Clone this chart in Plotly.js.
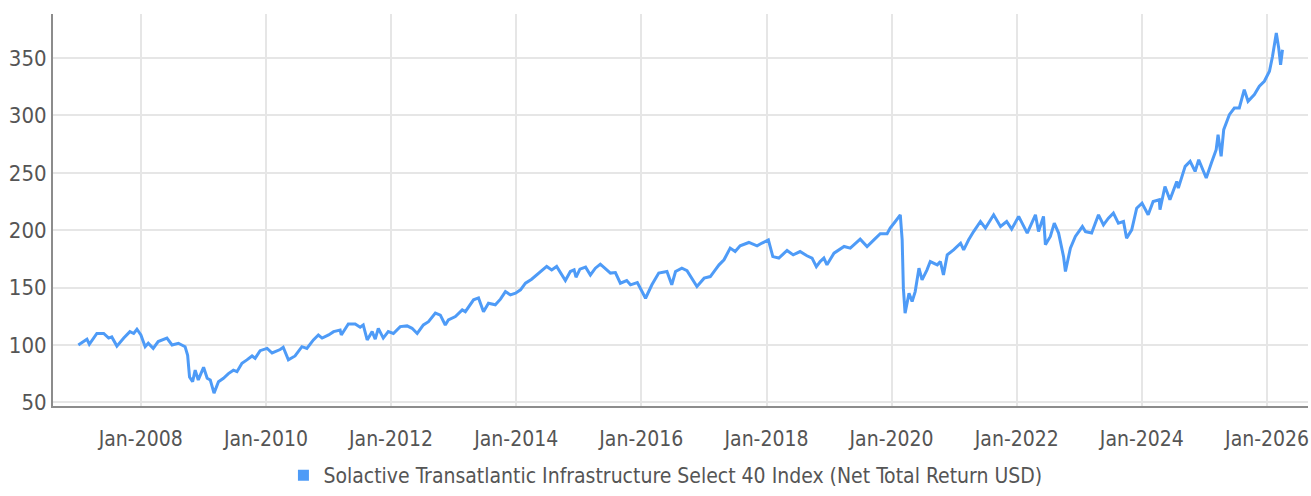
<!DOCTYPE html>
<html>
<head>
<meta charset="utf-8">
<script src="https://cdn.plot.ly/plotly-3.0.1.min.js"></script>
<style>
html,body{margin:0;padding:0;background:#fff;}
#chart{width:1311px;height:496px;}
</style>
</head>
<body>
<div id="chart"></div>
<script>
const seriesName = "Solactive Transatlantic Infrastructure Select 40 Index (Net Total Return USD)";

const dates = [
"2007-01-02","2007-02-21","2007-03-07","2007-04-20","2007-05-30","2007-06-28","2007-07-16","2007-08-15","2007-09-24","2007-10-30","2007-11-21","2007-12-10",
"2008-01-02","2008-01-27","2008-02-14","2008-03-14","2008-04-12","2008-06-02","2008-07-02","2008-08-08","2008-09-16","2008-10-01","2008-10-12","2008-10-30","2008-11-14","2008-12-02",
"2009-01-02","2009-01-23","2009-02-10","2009-03-04","2009-03-30","2009-04-28","2009-05-27","2009-06-25","2009-07-16","2009-08-14","2009-09-12","2009-10-12","2009-10-30","2009-11-28",
"2010-01-08","2010-02-06","2010-03-25","2010-04-12","2010-05-12","2010-06-20","2010-07-30","2010-08-28","2010-10-05","2010-11-03","2010-11-25",
"2011-01-02","2011-01-31","2011-03-10","2011-03-17","2011-04-27","2011-06-06","2011-07-05","2011-07-23","2011-08-15","2011-09-13","2011-10-01","2011-10-19","2011-11-17","2011-12-16",
"2012-01-15","2012-02-24","2012-04-04","2012-05-03","2012-06-02","2012-07-08","2012-08-07","2012-09-16","2012-10-15","2012-11-13","2012-12-01",
"2013-01-11","2013-02-20","2013-03-10","2013-04-27","2013-05-26","2013-06-24","2013-07-23","2013-09-01","2013-10-01","2013-10-30","2013-11-28","2013-12-28",
"2014-01-26","2014-02-24","2014-04-01","2014-05-11","2014-06-28","2014-07-27","2014-08-25","2014-10-15","2014-11-13","2014-12-05","2014-12-16",
"2015-01-08","2015-02-10","2015-03-10","2015-04-08","2015-05-07","2015-06-05","2015-07-05","2015-08-03","2015-09-01","2015-10-08","2015-10-30","2015-12-09",
"2016-01-26","2016-03-03","2016-04-12","2016-05-30","2016-06-27","2016-07-19","2016-08-25","2016-09-24","2016-10-23","2016-11-21",
"2017-01-02","2017-02-07","2017-03-08","2017-03-30","2017-04-28","2017-06-03","2017-07-02","2017-07-31","2017-09-20","2017-11-07","2017-12-06",
"2018-01-12","2018-02-07","2018-03-14","2018-05-01","2018-06-06","2018-07-16","2018-08-25","2018-09-24","2018-10-19","2018-11-10","2018-12-02","2018-12-20",
"2019-01-30","2019-03-30","2019-05-05","2019-07-02","2019-08-11","2019-09-20","2019-10-27","2019-12-06","2019-12-24",
"2020-01-23","2020-02-21","2020-03-03","2020-03-10","2020-03-20","2020-04-12","2020-04-30","2020-05-18","2020-06-09","2020-06-27","2020-07-26","2020-08-14","2020-09-24","2020-10-12","2020-10-30","2020-11-21","2020-12-28",
"2021-02-07","2021-02-25","2021-03-26","2021-04-24","2021-06-03","2021-07-02","2021-08-19","2021-09-28","2021-11-03","2021-12-02",
"2022-01-12","2022-03-03","2022-04-20","2022-05-08","2022-06-06","2022-06-17","2022-07-16","2022-08-08","2022-09-02","2022-10-01","2022-10-12","2022-11-10","2022-12-09",
"2023-01-19","2023-02-06","2023-03-14","2023-04-23","2023-05-22","2023-06-20","2023-07-19","2023-08-17","2023-09-16","2023-10-04","2023-11-03","2023-12-02",
"2024-01-02","2024-02-07","2024-03-07","2024-04-12","2024-04-16","2024-05-15","2024-06-13","2024-07-23","2024-08-01","2024-09-10","2024-10-09","2024-11-07","2024-11-28","2024-12-28",
"2025-01-11","2025-02-10","2025-03-10","2025-03-21","2025-04-08","2025-04-23","2025-05-26","2025-06-24","2025-07-23","2025-08-21","2025-09-12","2025-10-19","2025-11-17","2025-12-16",
"2026-01-15","2026-02-02","2026-02-24","2026-03-10","2026-03-21","2026-04-01"
];

const values = [
100,105,100.6,110,110,106,107,99,106,111.6,110,113.7,
108.7,98.5,101.5,97,103,106,100,101.5,98.5,91,72,68,78,69.5,
80.5,71,69.5,58,68,71,75,78,76.7,84,87,90.4,88.4,95,
97,93,96,98,87,90.4,98.5,97,104.4,108.7,106,
108.7,111.6,113,108.7,118.3,118.3,115.4,117.4,104.4,111.6,105,114.5,106,111.6,
110,116,116.6,114.5,110,117.4,120.3,127.7,126,117.4,121.8,
124.7,130.5,129,139.3,141,129,136.4,135,139.9,146.5,143.6,145.1,
148,153.8,157.3,162.6,168.4,165.4,168.4,156.1,164,165.4,159,
166,167.8,161,166.9,170.4,166.9,162.6,163.1,153.8,156.1,152.4,154.4,
140.7,152.4,162.6,164,152.4,164,166.9,164.8,158.2,150.9,
158.2,159.6,165.4,169.8,174.2,184.4,181.4,186.4,189.3,186.4,188.8,
191.6,177,175.7,182.3,178.5,181.4,177.7,175.7,168.3,172.7,175.7,169.8,
180,185.8,184.4,192.2,185.8,191.6,196.9,196.9,201.8,
207.6,213.4,191.6,149.5,127.7,145.1,137.8,146.5,166.9,156.7,165.4,172.7,169.8,172.7,161,178.5,182.9,
188.7,182.9,191.6,198.8,207.6,201.8,213.4,203.2,207.6,200.9,
212,197.5,213.4,198.8,212,187.3,194.5,206.2,197.5,177,164,184.4,194.5,
203.2,198.8,197.5,213.4,204.7,210.5,214.9,206.2,207.6,193.1,200.3,219.2,
223.6,213.4,225,226.5,217.8,238.1,226.5,242.5,236.7,255.6,260,251.2,261.4,249.8,
245.5,258.5,270.2,283.2,264.3,287.6,300.7,306.5,306.5,322.5,312.3,318.2,325.4,329.8,
338.5,351.6,371.8,358.7,344.1,357.2
];

const tickDates = ["2008-01-01","2010-01-01","2012-01-01","2014-01-01","2016-01-01","2018-01-01","2020-01-01","2022-01-01","2024-01-01","2026-01-01"];
const tickLabels = ["Jan-2008","Jan-2010","Jan-2012","Jan-2014","Jan-2016","Jan-2018","Jan-2020","Jan-2022","Jan-2024","Jan-2026"];
const yTicks = [50,100,150,200,250,300,350];

const FONT = "'Liberation Sans Narrow','DejaVu Sans Condensed','Roboto',sans-serif";
const BLUE = "#4e9bf7";

const traces = [
  {
    x: dates, y: values, type: "scatter", mode: "lines",
    line: {color: BLUE, width: 3},
    showlegend: false, hoverinfo: "skip"
  },
  {
    x: [null], y: [null], type: "scatter", mode: "markers",
    name: seriesName,
    marker: {symbol: "square", color: BLUE, size: 11},
    showlegend: true, hoverinfo: "skip"
  }
];

const layout = {
  width: 1311, height: 496,
  margin: {l: 53, r: 3, t: 14, b: 90, autoexpand: false},
  paper_bgcolor: "#fff", plot_bgcolor: "#fff",
  font: {family: FONT, color: "#555", size: 21},
  xaxis: {
    type: "date", automargin: false,
    range: ["2006-08-07", "2026-08-28"],
    tickvals: tickDates, ticktext: tickLabels,
    showgrid: true, gridcolor: "#e6e6e6", gridwidth: 2,
    showline: true, linecolor: "#8c8c8c", linewidth: 2,
    ticks: "", zeroline: false, ticklabelstandoff: 13,
    tickfont: {family: FONT, color: "#555", size: 21}
  },
  yaxis: {
    automargin: false,
    range: [46.8, 388.4],
    tickvals: yTicks,
    showgrid: true, gridcolor: "#e6e6e6", gridwidth: 2,
    showline: true, linecolor: "#8c8c8c", linewidth: 2,
    ticks: "", zeroline: false,
    tickfont: {family: FONT, color: "#555", size: 22}
  },
  showlegend: true,
  legend: {
    orientation: "h", x: 0.488, xanchor: "center",
    yref: "container", y: -0.012, yanchor: "bottom",
    font: {family: FONT, color: "#555", size: 21},
    bgcolor: "rgba(0,0,0,0)"
  }
};

Plotly.newPlot("chart", traces, layout, {staticPlot: true, displayModeBar: false});
</script>
</body>
</html>
